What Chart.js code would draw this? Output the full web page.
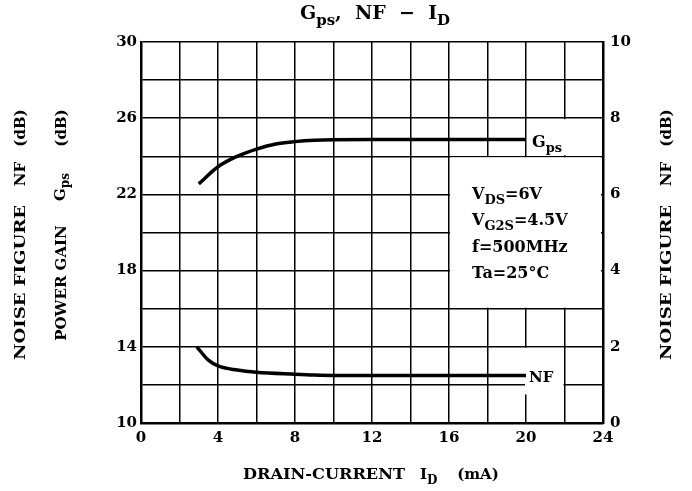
<!DOCTYPE html>
<html>
<head>
<meta charset="utf-8">
<script src="https://cdn.jsdelivr.net/npm/chart.js@4.4.0/dist/chart.umd.min.js"></script>
<style>
html, body { margin: 0; padding: 0; background: #fff; }
</style>
</head>
<body>
<canvas id="chart" width="692" height="491"></canvas>
<script>
// drain current (mA) vs power gain (dB)
const gpsCurrent = [3, 4, 5, 6, 7, 8, 9, 10, 12, 14, 16, 18, 20];
const gpsGain = [22.55, 23.45, 24.0, 24.38, 24.65, 24.77, 24.84, 24.87, 24.88, 24.88, 24.88, 24.88, 24.88];
// drain current (mA) vs noise figure (dB)
const nfCurrent = [2.9, 3.5, 4, 5, 6, 8, 9, 10, 12, 14, 16, 18, 20];
const nfValue = [2.0, 1.65, 1.5, 1.39, 1.33, 1.28, 1.26, 1.25, 1.25, 1.25, 1.25, 1.25, 1.25];

const xTickLabels = [0, 4, 8, 12, 16, 20, 24];
const gainTickLabels = [10, 14, 18, 22, 26, 30];
const nfTickLabels = [0, 2, 4, 6, 8, 10];

const SERIF = '"DejaVu Serif", serif';
const tickFont = { family: SERIF, size: 15, weight: 'bold' };

function toPoints(xs, ys) {
	return xs.map((x, i) => ({ x: x, y: ys[i] }));
}

// draw a run of [text, isSub] parts starting at x
function drawParts(ctx, parts, x, y, size) {
	parts.forEach(([txt, sub]) => {
		const s = sub ? Math.round(size * 0.8) : size;
		ctx.font = 'bold ' + s + 'px ' + SERIF;
		ctx.fillText(txt, x, sub ? y + size * 0.3 : y);
		x += ctx.measureText(txt).width;
	});
	return x;
}

function partsWidth(ctx, parts, size) {
	let w = 0;
	parts.forEach(([txt, sub]) => {
		const s = sub ? Math.round(size * 0.8) : size;
		ctx.font = 'bold ' + s + 'px ' + SERIF;
		w += ctx.measureText(txt).width;
	});
	return w;
}

// text stretched horizontally to a given width (the original face is wide);
// short words that already fill the space are just centred
function fitText(ctx, txt, x, y, width, size) {
	ctx.font = 'bold ' + size + 'px ' + SERIF;
	const w = ctx.measureText(txt).width;
	ctx.save();
	if (w >= width) {
		ctx.fillText(txt, x + (width - w) / 2, y);
	} else {
		ctx.translate(x, y);
		ctx.scale(width / w, 1);
		ctx.fillText(txt, 0, 0);
	}
	ctx.restore();
}

// rotated side label, groups placed from bottom (from) to top (to)
function sideLabel(ctx, cx, groups) {
	ctx.save();
	ctx.translate(cx, 0);
	ctx.rotate(-Math.PI / 2);
	ctx.textBaseline = 'middle';
	ctx.textAlign = 'left';
	groups.forEach(g => {
		if (g.parts) {
			drawParts(ctx, g.parts, -g.from, -1, 15);
		} else {
			fitText(ctx, g.text, -g.from, 0, g.from - g.to, 15);
		}
	});
	ctx.restore();
}

const boxesAndText = {
	id: 'boxesAndText',
	beforeDatasetsDraw(chart) {
		const { ctx, scales } = chart;
		const px = v => scales.x.getPixelForValue(v);
		const py = v => scales.y.getPixelForValue(v);
		ctx.save();
		ctx.fillStyle = '#fff';
		// conditions box
		ctx.fillRect(px(16) + 1, py(24) + 1, px(24) - px(16) - 3, py(16) - py(24) - 2);
		// Gps label box
		ctx.fillRect(px(20) + 1, py(26) + 1, px(24) - px(20) - 3, py(24) - py(26) - 2);
		// NF label box
		ctx.fillRect(px(20) - 1, py(14) + 1, px(22) - px(20), py(11.5) - py(14) - 1);
		ctx.restore();
	},
	afterDraw(chart) {
		const { ctx } = chart;
		ctx.save();
		ctx.fillStyle = '#000';
		ctx.textBaseline = 'alphabetic';
		ctx.textAlign = 'left';

		// title
		const title = [['G', false], ['ps', true], [',  NF  \u2212  I', false], ['D', true]];
		const tw = partsWidth(ctx, title, 19);
		drawParts(ctx, title, 375 - tw / 2, 19, 19);

		// series labels
		drawParts(ctx, [['G', false], ['ps', true]], 532, 147, 16);
		drawParts(ctx, [['NF', false]], 529, 382, 15);

		// conditions
		drawParts(ctx, [['V', false], ['DS', true], ['=6V', false]], 472, 199, 16);
		drawParts(ctx, [['V', false], ['G2S', true], ['=4.5V', false]], 472, 225, 16);
		drawParts(ctx, [['f=500MHz', false]], 472, 252, 16);
		drawParts(ctx, [['Ta=25\u00b0C', false]], 472, 278, 16);

		// x axis title
		fitText(ctx, 'DRAIN-CURRENT', 243, 479, 162, 15);
		drawParts(ctx, [['I', false], ['D', true]], 420, 479, 15);
		fitText(ctx, '(mA)', 458, 479, 40, 15);

		// side titles
		sideLabel(ctx, 21, [
			{ text: 'NOISE FIGURE', from: 360, to: 205 },
			{ text: 'NF', from: 184, to: 164 },
			{ text: '(dB)', from: 141, to: 115 }
		]);
		sideLabel(ctx, 62, [
			{ text: 'POWER GAIN', from: 340, to: 226 },
			{ parts: [['G', false], ['ps', true]], from: 201 },
			{ text: '(dB)', from: 141, to: 115 }
		]);
		sideLabel(ctx, 667, [
			{ text: 'NOISE FIGURE', from: 360, to: 205 },
			{ text: 'NF', from: 184, to: 164 },
			{ text: '(dB)', from: 141, to: 115 }
		]);
		ctx.restore();
	}
};

const ctx = document.getElementById('chart').getContext('2d');
const myChart = new Chart(ctx, {
	type: 'line',
	data: {
		datasets: [
			{
				label: 'Gps',
				data: toPoints(gpsCurrent, gpsGain),
				yAxisID: 'y',
				borderColor: '#000',
				borderWidth: 3.5,
				pointRadius: 0,
				cubicInterpolationMode: 'monotone',
				fill: false,
			},
			{
				label: 'NF',
				data: toPoints(nfCurrent, nfValue),
				yAxisID: 'y2',
				borderColor: '#000',
				borderWidth: 3.5,
				pointRadius: 0,
				cubicInterpolationMode: 'monotone',
				fill: false,
			},
		],
	},
	options: {
		responsive: false,
		animation: false,
		devicePixelRatio: 1,
		layout: { padding: { top: 42, left: 0, right: 0, bottom: 0 } },
		plugins: {
			legend: { display: false },
			tooltip: { enabled: false },
		},
		scales: {
			x: {
				type: 'linear',
				min: 0,
				max: 24,
				afterFit: s => { s.height = 68; },
				grid: { color: '#000', lineWidth: 1.5, drawTicks: false },
				border: { color: '#000', width: 2.5 },
				ticks: {
					stepSize: 2,
					padding: 6,
					color: '#000',
					font: tickFont,
					maxRotation: 0,
					autoSkip: false,
					callback: v => (xTickLabels.includes(v) ? v : ''),
				},
			},
			y: {
				position: 'left',
				min: 10,
				max: 30,
				afterFit: s => { s.width = 141; },
				grid: { color: '#000', lineWidth: 1.5, drawTicks: false },
				border: { color: '#000', width: 2.5 },
				ticks: {
					stepSize: 2,
					padding: 4,
					color: '#000',
					font: tickFont,
					autoSkip: false,
					callback: v => (gainTickLabels.includes(v) ? v : ''),
				},
			},
			y2: {
				position: 'right',
				min: 0,
				max: 10,
				afterFit: s => { s.width = 89; },
				grid: { display: false, drawTicks: false },
				border: { color: '#000', width: 2.5 },
				ticks: {
					stepSize: 2,
					padding: 7,
					color: '#000',
					font: tickFont,
					autoSkip: false,
					callback: v => (nfTickLabels.includes(v) ? v : ''),
				},
			},
		},
	},
	plugins: [boxesAndText],
});
</script>
</body>
</html>
